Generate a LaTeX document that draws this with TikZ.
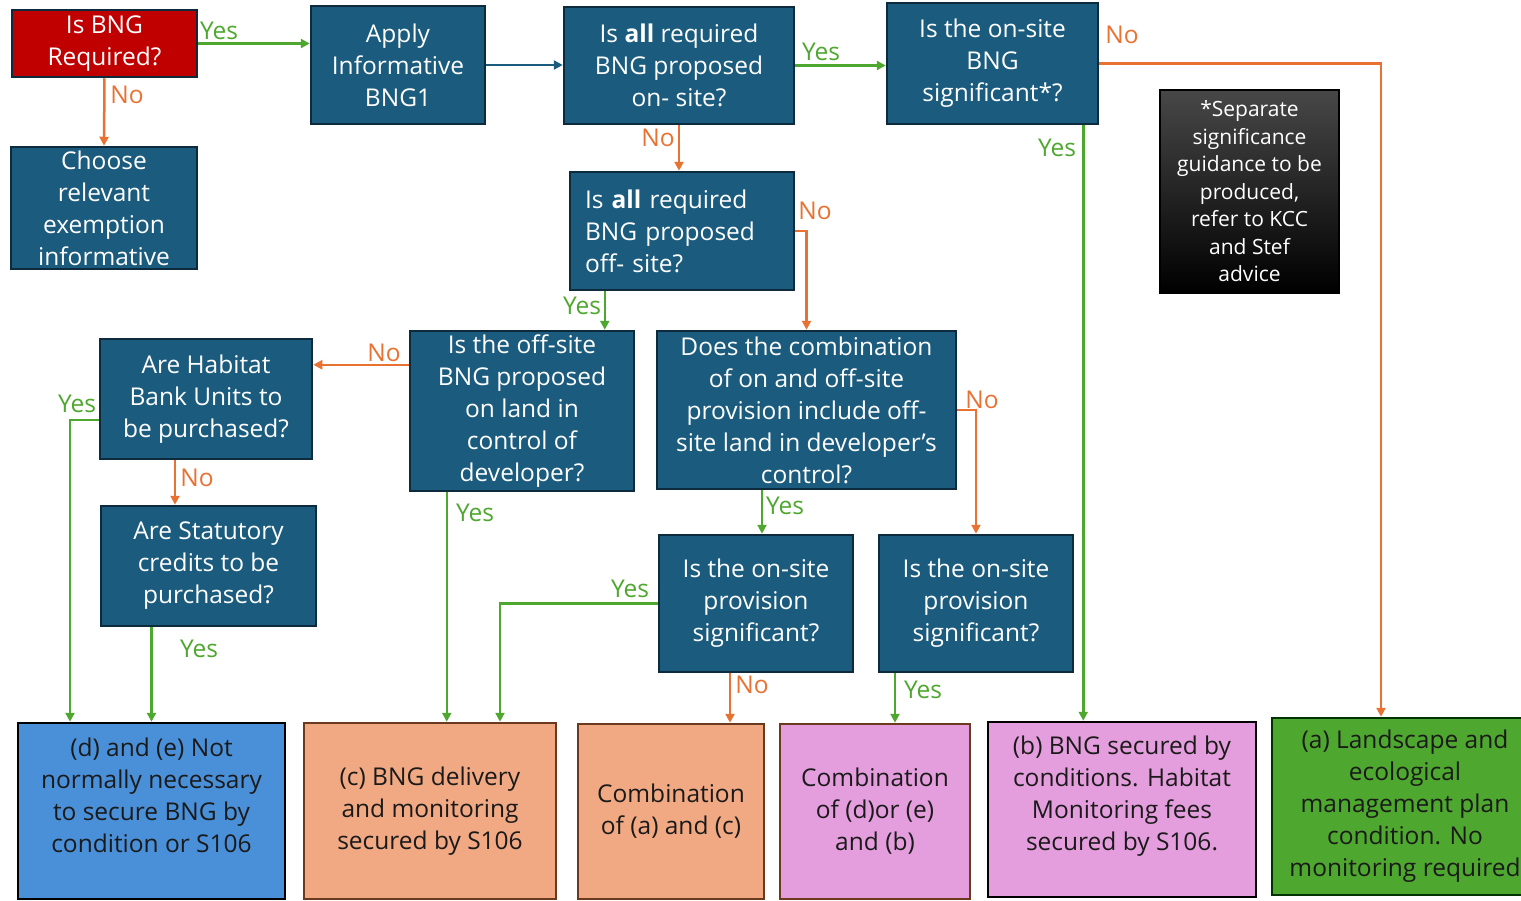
\documentclass[tikz,border=0pt]{standalone}
\usepackage{fontspec}
\setmainfont{Open Sans}
\usetikzlibrary{arrows.meta,calc}
\definecolor{boxblue}{HTML}{1B5C7E}
\definecolor{boxedge}{HTML}{0D2B3C}
\definecolor{reqred}{HTML}{C00000}
\definecolor{ygreen}{HTML}{4EA72E}
\definecolor{norange}{HTML}{E97132}
\definecolor{dblue}{HTML}{4A90D9}
\definecolor{peach}{HTML}{F1A983}
\definecolor{pinkfill}{HTML}{E59EDD}
\definecolor{agreen}{HTML}{4EA72E}
\definecolor{brownedge}{HTML}{6B3A1E}
\definecolor{darktext}{HTML}{1A1A1A}
\tikzset{
  qbox/.style={draw=boxedge, line width=2.5pt, fill=boxblue, text=white, align=center, inner sep=2pt,
    font=\fontsize{24.5}{32}\selectfont},
  obox/.style={draw=black, line width=2.5pt, text=darktext, align=center, inner sep=2pt,
    font=\fontsize{24.5}{32}\selectfont},
  notebox/.style={draw=black, line width=2pt, top color=black!72, middle color=black, bottom color=black,
    text=white, align=center, inner sep=2pt, font=\fontsize{21}{27.5}\selectfont},
  conn/.style={line width=2.5pt, -{Triangle[length=9pt,width=9pt]}},
  yesline/.style={conn, draw=ygreen},
  noline/.style={conn, draw=norange},
  blueline/.style={conn, draw=boxblue},
  lbl/.style={font=\fontsize{24.5}{26}\selectfont, inner sep=0pt},
  ylbl/.style={lbl, text=ygreen},
  nlbl/.style={lbl, text=norange},
}
\begin{document}
\begin{tikzpicture}[x=1pt,y=-1pt]
\useasboundingbox (0,0) rectangle (1521,900);
% question boxes
\node[qbox, fill=reqred, minimum width=185, minimum height=67] (req) at (104.5,43.5) {Is BNG\\Required?};
\node[qbox, minimum width=174, minimum height=118] (apply) at (398,65) {Apply\\Informative\\BNG1};
\node[qbox, minimum width=230, minimum height=117] (onsite) at (679,65.5) {Is \textbf{all} required\\BNG proposed\\on- site?};
\node[qbox, minimum width=211, minimum height=121] (sig) at (992.5,63.5) {Is the on-site\\BNG\\significant*?};
\node[qbox, minimum width=186, minimum height=122] (choose) at (104,208) {Choose\\relevant\\exemption\\informative};
\node[notebox, minimum width=179, minimum height=203] (note) at (1249.5,191.5) {*Separate\\significance\\guidance to be\\produced,\\refer to KCC\\and Stef\\advice};
\node[qbox, align=left, text width=194pt, inner xsep=15pt, minimum height=118] (offsite) at (682,231) {Is \textbf{all} required\\BNG proposed\\off- site?};
\node[qbox, minimum width=224, minimum height=160] (control) at (522,411) {Is the off-site\\BNG proposed\\on land in\\control of\\developer?};
\node[qbox, minimum width=212, minimum height=120] (habitat) at (206,399) {Are Habitat\\Bank Units to\\be purchased?};
\node[qbox, minimum width=299, minimum height=158] (combo) at (806.5,410) {Does the combination\\of on and off-site\\provision include off-\\site land in developer’s\\control?};
\node[qbox, minimum width=215, minimum height=120] (statutory) at (208.5,566) {Are Statutory\\credits to be\\purchased?};
\node[qbox, minimum width=194, minimum height=137] (sigone) at (756,603.5) {Is the on-site\\provision\\significant?};
\node[qbox, minimum width=194, minimum height=137] (sigtwo) at (976,603.5) {Is the on-site\\provision\\significant?};
% outcome boxes
\node[obox, fill=dblue, minimum width=267, minimum height=176] (d) at (151.5,811) {(d) and (e) Not\\normally necessary\\to secure BNG by\\condition or S106\\\mbox{}};
\node[obox, fill=peach, draw=brownedge, minimum width=252, minimum height=176] (c) at (430,811) {(c) BNG delivery\\and monitoring\\secured by S106};
\node[obox, fill=peach, draw=brownedge, minimum width=186, minimum height=175] (ac) at (671,811.5) {Combination\\of (a) and (c)};
\node[obox, fill=pinkfill, draw=brownedge, minimum width=190, minimum height=175] (db) at (875,811.5) {Combination\\of (d)or (e)\\and (b)};
\node[obox, fill=pinkfill, minimum width=268, minimum height=175] (b) at (1122,809.5) {(b) BNG secured by\\conditions. Habitat\\Monitoring fees\\secured by S106.\\\mbox{}};
\node[obox, fill=agreen, draw=black!80!green, minimum width=266, minimum height=177] (a) at (1405,806.5) {(a) Landscape and\\ecological\\management plan\\condition. No\\monitoring required};
% connectors
\draw[yesline] (req.east) -- (req.east -| apply.west) node[ylbl, at={(219,31)}] {Yes};
\draw[noline] (req.south) -- (choose.north) node[nlbl, at={(127,95)}] {No};
\draw[blueline] (apply.east) -- (apply.east -| onsite.west);
\draw[yesline] (onsite.east) -- (onsite.east -| sig.west) node[ylbl, at={(821,52)}] {Yes};
\draw[noline] (onsite.south) -- (onsite.south |- offsite.north) node[nlbl, at={(658,138)}] {No};
\draw[noline] (sig.east) -| ([xshift=-24pt]a.north) node[nlbl, at={(1122,35)}] {No};
\draw[yesline] ([xshift=-16pt]sig.south east) -- ([xshift=-16pt]sig.south east |- b.north) node[ylbl, at={(1057,148)}] {Yes};
\draw[noline] (offsite.east) -| (combo.north) node[nlbl, at={(815,211)}] {No};
\draw[yesline] ([xshift=36pt]offsite.south west) -- ([xshift=36pt]offsite.south west |- control.north) node[ylbl, at={(582,306)}] {Yes};
\draw[noline] ([yshift=-35pt]control.north west) -- ([yshift=-35pt]control.north west -| habitat.east) node[nlbl, at={(384,353)}] {No};
\draw[yesline] ([xshift=38pt]control.south west) -- ([xshift=38pt]control.south west |- c.north) node[ylbl, at={(475,513)}] {Yes};
\draw[yesline] ([yshift=-21pt]habitat.west) -| ([xshift=-81.5pt]d.north) node[ylbl, at={(77,404)}] {Yes};
\draw[noline] ([xshift=-31pt]habitat.south) -- ([xshift=-31pt]habitat.south |- statutory.north) node[nlbl, at={(197,478)}] {No};
\draw[yesline] (statutory.south -| d.north) -- (d.north) node[ylbl, at={(199,649)}] {Yes};
\draw[yesline] ([xshift=6pt]sigone.north |- combo.south) -- ([xshift=6pt]sigone.north) node[ylbl, at={(785,506)}] {Yes};
\draw[noline] (combo.east) -| (sigtwo.north) node[nlbl, at={(982,400)}] {No};
\draw[yesline] (sigone.west) -| ([xshift=70pt]c.north) node[ylbl, at={(630,589)}] {Yes};
\draw[noline] ([xshift=59pt]ac.north |- sigone.south) -- ([xshift=59pt]ac.north) node[nlbl, at={(752,685)}] {No};
\draw[yesline] ([xshift=20pt]db.north |- sigtwo.south) -- ([xshift=20pt]db.north) node[ylbl, at={(923,690)}] {Yes};
\end{tikzpicture}
\end{document}
